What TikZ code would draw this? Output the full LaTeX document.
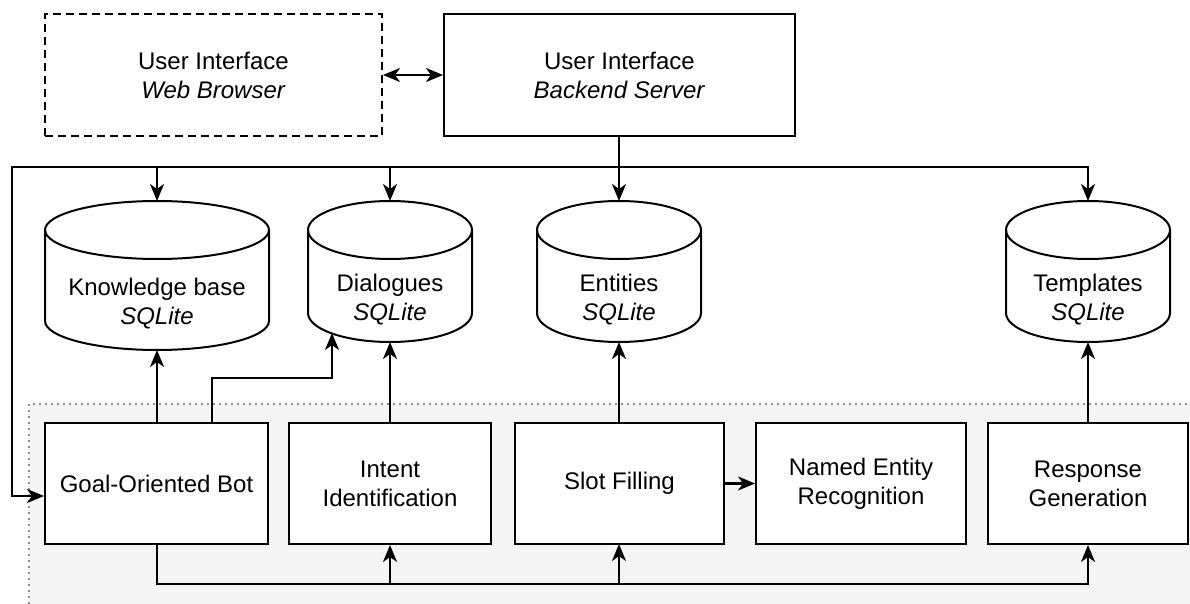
\documentclass[tikz,border=0pt]{standalone}
\usepackage{fontspec}
\setmainfont{Liberation Sans}
\usetikzlibrary{arrows.meta}
\newcommand\dbcyl[5]{% cx, half-width, top, bottom, r
  \draw[line width=2pt, fill=white] ({#1-#2},{#3+#5}) -- ({#1-#2},{#4-#5})
    arc[start angle=180,end angle=360,x radius={#2 pt},y radius={#5 pt}]
    -- ({#1+#2},{#3+#5})
    arc[start angle=0,end angle=180,x radius={#2 pt},y radius={#5 pt}] -- cycle;
  \draw[line width=2pt] ({#1-#2},{#3+#5})
    arc[start angle=180,end angle=360,x radius={#2 pt},y radius={#5 pt}];
}
\begin{document}
\begin{tikzpicture}[x=1pt,y=-1pt,
  box/.style={draw, line width=2pt, fill=white, rectangle, align=center,
    font=\fontsize{24}{29}\selectfont, inner sep=0pt},
  txt/.style={align=center, font=\fontsize{24}{29}\selectfont, inner sep=0pt},
  conn/.style={line width=2.2pt, arrows={-Stealth[length=17pt,width=14pt,inset=5pt]}},
  both/.style={line width=2.2pt, arrows={Stealth[length=17pt,width=14pt,inset=5pt]-Stealth[length=17pt,width=14pt,inset=5pt]}},
  plain/.style={line width=2.2pt}]
\useasboundingbox (0,0) rectangle (1190,604);
% container
\draw[draw=black!45, line width=1.6pt, dash pattern=on 1.6pt off 4.4pt, fill=black!4]
  (29,404) rectangle (1210,630);
% top boxes
\node[box, dash pattern=on 8pt off 5pt, minimum width=337pt, minimum height=122pt]
  (web) at (213.5,75) {User Interface\\\textit{Web Browser}};
\node[box, minimum width=351pt, minimum height=122pt]
  (back) at (619.5,75) {User Interface\\\textit{Backend Server}};
\draw[both] (web.east) -- (back.west);
% cylinders
\dbcyl{157}{112}{201}{350}{29}
\dbcyl{390}{82}{201}{342}{29}
\dbcyl{619}{82}{201}{342}{29}
\dbcyl{1088}{82}{201}{342}{29}
\node[txt] (kb) at (157,304) {Knowledge base\\\textit{SQLite}};
\node[txt] (dia) at (390,300) {Dialogues\\\textit{SQLite}};
\node[txt] (ent) at (619,300) {Entities\\\textit{SQLite}};
\node[txt] (tpl) at (1088,300) {Templates\\\textit{SQLite}};
\coordinate (kbT) at (157,201);
\coordinate (kbB) at (157,350);
\coordinate (diaT) at (390,201);
\coordinate (diaB) at (390,342);
\coordinate (diaB2) at (332,333);
\coordinate (entT) at (619,201);
\coordinate (entB) at (619,342);
\coordinate (tplT) at (1088,201);
\coordinate (tplB) at (1088,342);
% bottom boxes
\node[box, minimum width=223pt, minimum height=121pt] (goal) at (156.5,483.5) {Goal-Oriented Bot};
\node[box, minimum width=202pt, minimum height=121pt] (intent) at (390,483.5) {Intent\\Identification};
\node[box, minimum width=209pt, minimum height=121pt] (slot) at (619.5,483.5) {Slot Filling};
\node[box, minimum width=210pt, minimum height=121pt] (ner) at (861,483.5) {Named Entity\\Recognition};
\node[box, minimum width=200pt, minimum height=121pt] (resp) at (1088,483.5) {Response\\Generation};
\coordinate (slotS) at (619,544);
\coordinate (slotN) at (619,423);
% bus from backend
\coordinate (J) at (619,167);
\coordinate (L) at (12,167);
\coordinate (gw) at (goal.west |- 0,496);
\draw[plain, line width=2.8pt] (back.south -| J) -- (J);
\draw[conn] (J) -- (L) |- (gw);
\draw[conn] (J) -| (kbT);
\draw[conn] (J) -| (diaT);
\draw[conn] (J) -- (entT);
\draw[conn] (J) -| (tplT);
% upward connections
\draw[conn] (goal.north -| kbB) -- (kbB);
\coordinate (g2) at (212,423);
\draw[conn] (g2) -- (212,378) -| (diaB2);
\draw[conn] (intent.north -| diaB) -- (diaB);
\draw[conn] (slotN) -- (entB);
\draw[conn] (resp.north -| tplB) -- (tplB);
\draw[conn] (slot.east) -- (ner.west);
% bottom bus
\coordinate (B) at (157,584);
\draw[conn] (goal.south -| B) -- (B) -| (resp.south);
\draw[conn] (intent.south |- B) -- (intent.south);
\draw[conn] (slotS |- B) -- (slotS);
\end{tikzpicture}
\end{document}
